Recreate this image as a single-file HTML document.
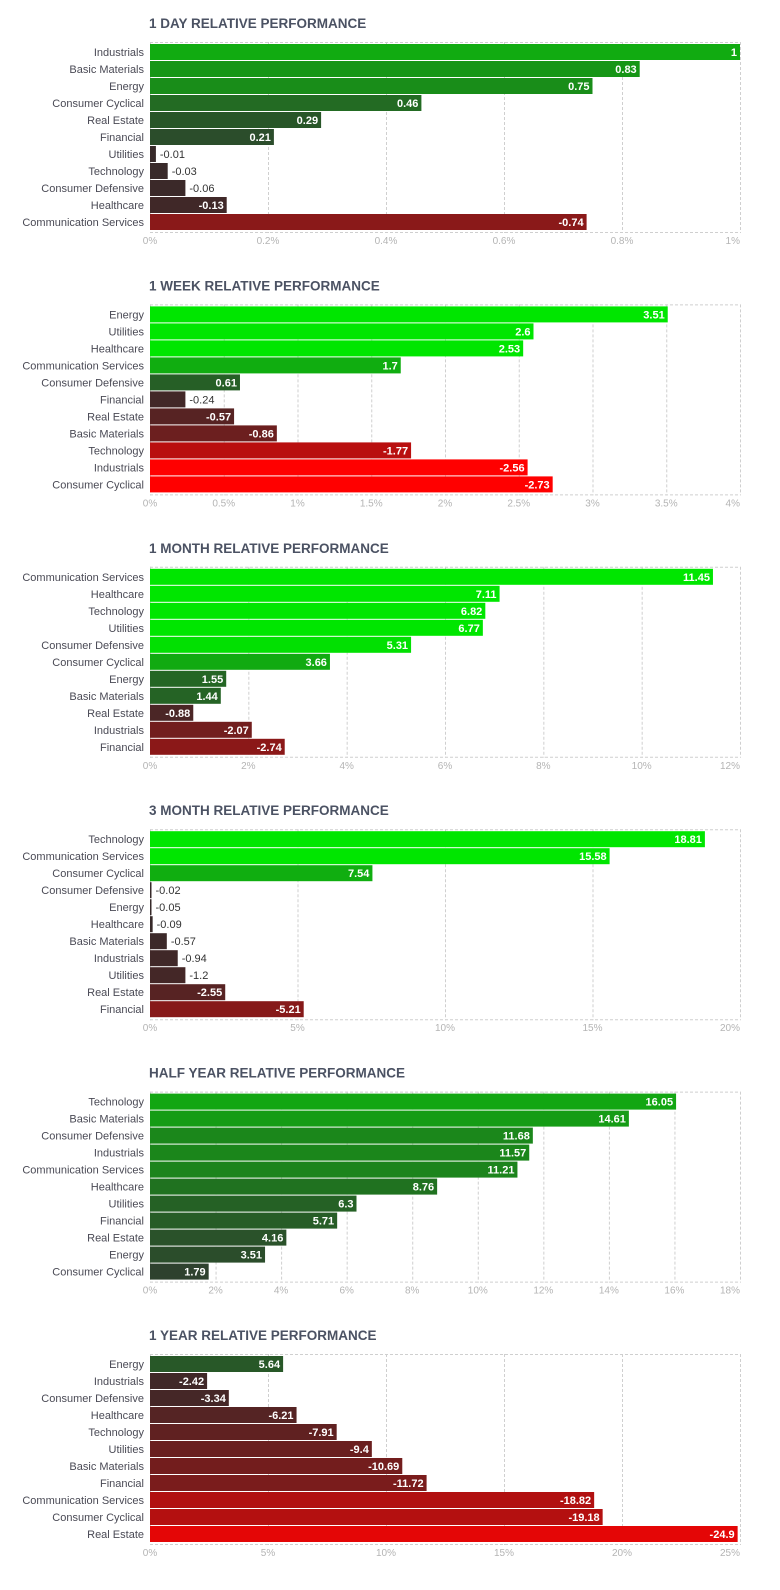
<!DOCTYPE html>
<html><head><meta charset="utf-8">
<style>
body{margin:0;background:#fff;}
svg{display:block;font-family:"Liberation Sans",sans-serif;}
</style></head>
<body>
<svg id="c" width="780" height="1590" xmlns="http://www.w3.org/2000/svg"></svg>
<script>
const dayTitle = "1 DAY RELATIVE PERFORMANCE";
const dayCats = ["Industrials","Basic Materials","Energy","Consumer Cyclical","Real Estate","Financial","Utilities","Technology","Consumer Defensive","Healthcare","Communication Services"];
const dayVals = [1,0.83,0.75,0.46,0.29,0.21,-0.01,-0.03,-0.06,-0.13,-0.74];
const dayTicks = ["0%","0.2%","0.4%","0.6%","0.8%","1%"];
const dayMax = 1;

const weekTitle = "1 WEEK RELATIVE PERFORMANCE";
const weekCats = ["Energy","Utilities","Healthcare","Communication Services","Consumer Defensive","Financial","Real Estate","Basic Materials","Technology","Industrials","Consumer Cyclical"];
const weekVals = [3.51,2.6,2.53,1.7,0.61,-0.24,-0.57,-0.86,-1.77,-2.56,-2.73];
const weekTicks = ["0%","0.5%","1%","1.5%","2%","2.5%","3%","3.5%","4%"];
const weekMax = 4;

const monthTitle = "1 MONTH RELATIVE PERFORMANCE";
const monthCats = ["Communication Services","Healthcare","Technology","Utilities","Consumer Defensive","Consumer Cyclical","Energy","Basic Materials","Real Estate","Industrials","Financial"];
const monthVals = [11.45,7.11,6.82,6.77,5.31,3.66,1.55,1.44,-0.88,-2.07,-2.74];
const monthTicks = ["0%","2%","4%","6%","8%","10%","12%"];
const monthMax = 12;

const q3Title = "3 MONTH RELATIVE PERFORMANCE";
const q3Cats = ["Technology","Communication Services","Consumer Cyclical","Consumer Defensive","Energy","Healthcare","Basic Materials","Industrials","Utilities","Real Estate","Financial"];
const q3Vals = [18.81,15.58,7.54,-0.02,-0.05,-0.09,-0.57,-0.94,-1.2,-2.55,-5.21];
const q3Ticks = ["0%","5%","10%","15%","20%"];
const q3Max = 20;

const halfTitle = "HALF YEAR RELATIVE PERFORMANCE";
const halfCats = ["Technology","Basic Materials","Consumer Defensive","Industrials","Communication Services","Healthcare","Utilities","Financial","Real Estate","Energy","Consumer Cyclical"];
const halfVals = [16.05,14.61,11.68,11.57,11.21,8.76,6.3,5.71,4.16,3.51,1.79];
const halfTicks = ["0%","2%","4%","6%","8%","10%","12%","14%","16%","18%"];
const halfMax = 18;

const yearTitle = "1 YEAR RELATIVE PERFORMANCE";
const yearCats = ["Energy","Industrials","Consumer Defensive","Healthcare","Technology","Utilities","Basic Materials","Financial","Communication Services","Consumer Cyclical","Real Estate"];
const yearVals = [5.64,-2.42,-3.34,-6.21,-7.91,-9.4,-10.69,-11.72,-18.82,-19.18,-24.9];
const yearTicks = ["0%","5%","10%","15%","20%","25%"];
const yearMax = 25;

const svg = document.getElementById('c');
const NS = "http://www.w3.org/2000/svg";
function mk(tag, attrs, parent){
  const e = document.createElementNS(NS, tag);
  for (const k in attrs) e.setAttribute(k, attrs[k]);
  (parent||svg).appendChild(e);
  return e;
}
function lerp(a,b,t){return Math.round(a+(b-a)*t);}
function color(v, scale){
  let t = Math.min(1, Math.abs(v)/scale);
  if (v >= 0) return `rgb(${lerp(50,0,t)},${lerp(52,230,t)},${lerp(50,0,t)})`;
  t = Math.pow(t, 1.25);
  return `rgb(${lerp(55,255,t)},${lerp(42,0,t)},${lerp(42,0,t)})`;
}
const X0 = 150, X1 = 740, W = X1 - X0, ROW = 17;

function chart(idx, title, cats, vals, ticks, max, cscale, key){
  const top = 23 + idx*262.4;
  const g = mk('g', {});
  
  
  const tt = mk('text', {x:X0-1, y:top+5, 'font-size':13.5, 'font-weight':'bold', fill:'#4b5263'}, g);
  tt.textContent = title;
  
  
  const py = top + 19, ph = ROW*cats.length + 4;
  const xs = v => X0 + Math.abs(v)/max*W;
  const n = ticks.length - 1;
  for (let i=0;i<=n;i++){
    const x = X0 + W*i/n;
    const gl = mk('line', {x1:x+0.5, x2:x+0.5, y1:py, y2:py+ph, stroke:'#cfcfcf', 'stroke-dasharray':'3,2'}, g);
    
    
    const tl = mk('text', {x:x, y:py+ph+11, 'font-size':10, fill:'#b4b4b4', 'text-anchor': i==0?'middle':(i==n?'end':'middle')}, g);
    tl.textContent = ticks[i];
    
    
  }
  const fr = mk('line', {x1:X0, x2:X1, y1:py+0.5, y2:py+0.5, stroke:'#cfcfcf', 'stroke-dasharray':'3,2'}, g);
  
  
  const fb = mk('line', {x1:X0, x2:X1, y1:py+ph-0.5, y2:py+ph-0.5, stroke:'#cfcfcf', 'stroke-dasharray':'3,2'}, g);
  
  
  cats.forEach((c,i)=>{
    const y = py + 2 + i*ROW;
    const v = vals[i];
    const w = Math.max(1.5, xs(v) - X0);
    const lb = mk('text', {x:X0-6, y:y+12, 'font-size':11, fill:'#4a4a55', 'text-anchor':'end'}, g);
    lb.textContent = c;
    
    
    const r = mk('rect', {x:X0, y:y, width:w, height:ROW-1, fill:color(v,cscale)}, g);
    
    
    const vl = mk('text', {y:y+12, 'font-size':11, 'font-weight':'bold'}, g);
    if (w > 40){ vl.setAttribute('x', X0+w-3); vl.setAttribute('text-anchor','end'); vl.setAttribute('fill','#fff'); }
    else { vl.setAttribute('x', X0+w+4); vl.setAttribute('fill','#333'); vl.setAttribute('font-weight','normal'); }
    vl.textContent = String(v);
    
    
  });
}
chart(0, dayTitle, dayCats, dayVals, dayTicks, dayMax, 1.5, 'day');
chart(1, weekTitle, weekCats, weekVals, weekTicks, weekMax, 2.5, 'week');
chart(2, monthTitle, monthCats, monthVals, monthTicks, monthMax, 5.5, 'month');
chart(3, q3Title, q3Cats, q3Vals, q3Ticks, q3Max, 11, 'three-month');
chart(4, halfTitle, halfCats, halfVals, halfTicks, halfMax, 25, 'half-year');
chart(5, yearTitle, yearCats, yearVals, yearTicks, yearMax, 28, 'year');
</script>
</body></html>
